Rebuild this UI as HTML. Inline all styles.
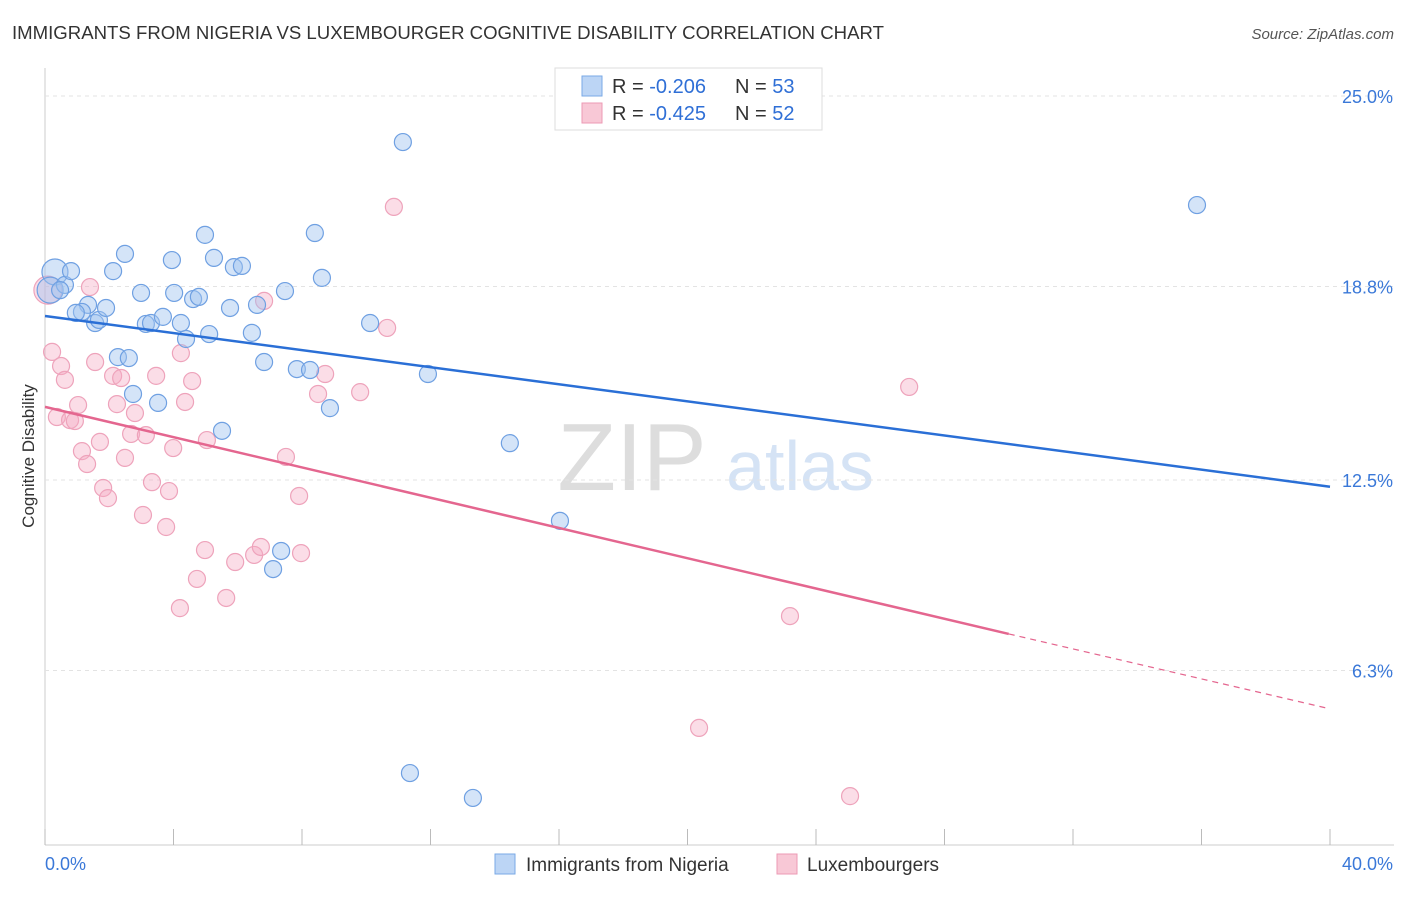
<!DOCTYPE html>
<html><head><meta charset="utf-8"><style>
body{margin:0;background:#fff;font-family:"Liberation Sans",sans-serif;}
svg text{font-family:"Liberation Sans",sans-serif;}
</style></head><body>
<svg id="c" width="1406" height="892">
<text x="12" y="39" font-size="18.6" fill="#333">IMMIGRANTS FROM NIGERIA VS LUXEMBOURGER COGNITIVE DISABILITY CORRELATION CHART</text>
<text x="1394" y="39" font-size="15" fill="#555" text-anchor="end" font-style="italic">Source: ZipAtlas.com</text>
<text x="34" y="456" font-size="17" fill="#333" text-anchor="middle" transform="rotate(-90 34 456)">Cognitive Disability</text>
<g><text x="632" y="490" font-size="96" fill="#ddd" text-anchor="middle" font-family="Liberation Serif">ZIP</text><text x="800" y="490" font-size="70" fill="#d5e3f5" text-anchor="middle">atlas</text></g>
<g id="grid"></g><g id="pts"></g><g id="lines"></g>
<g>
<rect x="555" y="68" width="267" height="62" fill="#fff" stroke="#ddd"/>
<rect x="582" y="76" width="20" height="20" fill="#bcd5f5" stroke="#7aa9e6"/>
<text x="612" y="93" font-size="20" fill="#333">R = <tspan fill="#2f6fd6">-0.206</tspan></text>
<text x="735" y="93" font-size="20" fill="#333">N = <tspan fill="#2f6fd6">53</tspan></text>
<rect x="582" y="103" width="20" height="20" fill="#f8c8d6" stroke="#ec9ab4"/>
<text x="612" y="120" font-size="20" fill="#333">R = <tspan fill="#2f6fd6">-0.425</tspan></text>
<text x="735" y="120" font-size="20" fill="#333">N = <tspan fill="#2f6fd6">52</tspan></text>
</g>
<g>
<rect x="495" y="854" width="20" height="20" fill="#bcd5f5" stroke="#7aa9e6"/>
<text x="526" y="871" font-size="19" fill="#333">Immigrants from Nigeria</text>
<rect x="777" y="854" width="20" height="20" fill="#f8c8d6" stroke="#ec9ab4"/>
<text x="807" y="871" font-size="19" fill="#333">Luxembourgers</text>
</g>
</svg>
<script>
const yTicks=[25.0,18.8,12.5,6.3];
const yTickLabels=["25.0%","18.8%","12.5%","6.3%"];
const xTicks=[0,4,8,12,16,20,24,28,32,36,40];
const blueX=[0.31,0.16,0.62,0.81,0.47,1.34,1.15,0.96,1.56,1.68,1.90,2.12,2.49,2.27,2.61,2.74,2.99,3.14,3.30,3.52,3.67,3.95,4.02,4.23,4.39,4.61,4.79,4.98,5.11,5.26,5.51,5.76,5.88,6.13,6.44,6.60,6.82,7.10,7.35,7.47,7.84,8.25,8.40,8.62,8.87,10.12,11.14,11.36,11.92,13.32,14.47,16.03,35.86];
const blueY=[19.27,18.68,18.85,19.30,18.68,18.20,17.97,17.94,17.61,17.71,18.10,19.30,19.86,16.50,16.47,15.30,18.59,17.58,17.61,15.01,17.81,19.66,18.59,17.61,17.09,18.39,18.46,20.48,17.25,19.73,14.10,18.10,19.43,19.47,17.29,18.20,16.34,9.60,10.19,18.65,16.11,16.08,20.54,19.08,14.84,17.61,23.50,2.96,15.95,2.15,13.70,11.17,21.45];
const pinkX=[0.09,0.22,0.37,0.50,0.62,0.78,0.93,1.03,1.15,1.31,1.40,1.56,1.71,1.81,1.96,2.12,2.24,2.37,2.49,2.68,2.80,3.05,3.14,3.33,3.46,3.77,3.86,3.99,4.20,4.23,4.36,4.58,4.73,4.98,5.04,5.64,5.92,6.51,6.72,6.82,7.50,7.91,7.97,8.50,8.72,9.81,10.65,10.86,20.36,23.19,25.06,26.90];
const pinkY=[18.68,16.67,14.55,16.21,15.76,14.45,14.42,14.94,13.44,13.02,18.78,16.34,13.74,12.24,11.91,15.89,14.97,15.82,13.22,14.00,14.68,11.36,13.96,12.43,15.89,10.97,12.14,13.54,8.33,16.63,15.04,15.72,9.28,10.22,13.80,8.66,9.83,10.06,10.32,18.33,13.25,11.98,10.12,15.30,15.95,15.36,17.45,21.39,4.43,8.07,2.21,15.53];
const blueFit=[[0,17.84],[40,12.28]];
const pinkFit=[[0,14.88],[30,7.49],[40,5.05]];
const NS="http://www.w3.org/2000/svg";
const X0=45,X1=1330,YT=96;
const xs=v=>X0+(X1-X0)*v/40;
const ys=v=>YT+(25-v)*30.72;
function mk(t,a,p){const e=document.createElementNS(NS,t);for(const k in a)e.setAttribute(k,a[k]);p.appendChild(e);return e;}
const g=document.getElementById('grid');
const ax=mk('line',{x1:45,y1:68,x2:45,y2:845,stroke:'#ccc'},g);


const bx=mk('line',{x1:45,y1:845,x2:1394,y2:845,stroke:'#ccc'},g);


yTicks.forEach((t,i)=>{
 const l=mk('line',{x1:45,y1:ys(t),x2:1394,y2:ys(t),stroke:'#e3e3e3','stroke-dasharray':'4,4'},g);
 
 
 const tx=mk('text',{x:1393,y:ys(t)+7,'font-size':18,fill:'#3a78d8','text-anchor':'end'},g);
 tx.textContent=yTickLabels[i];
 
 
});
xTicks.forEach(t=>{
 const l=mk('line',{x1:xs(t),y1:829,x2:xs(t),y2:845,stroke:'#bbb'},g);
 
 
});
const x0=mk('text',{x:45,y:870,'font-size':18,fill:'#3a78d8'},g);x0.textContent='0.0%';


const x4=mk('text',{x:1393,y:870,'font-size':18,fill:'#3a78d8','text-anchor':'end'},g);x4.textContent='40.0%';


const P=document.getElementById('pts');
pinkX.forEach((v,i)=>{
 const c=mk('circle',{cx:xs(v),cy:ys(pinkY[i]),r:i==0?14:8.5,fill:'rgba(245,170,195,0.4)',stroke:'#eea3bb','stroke-width':1.2},P);
 
 
});
blueX.forEach((v,i)=>{
 const c=mk('circle',{cx:xs(v),cy:ys(blueY[i]),r:i<2?13:8.5,fill:'rgba(160,195,240,0.45)',stroke:'#6fa0e2','stroke-width':1.2},P);
 
 
});
const L=document.getElementById('lines');
const bl=mk('line',{x1:xs(blueFit[0][0]),y1:ys(blueFit[0][1]),x2:xs(blueFit[1][0]),y2:ys(blueFit[1][1]),stroke:'#2a6fd6','stroke-width':2.5},L);


const pl=mk('line',{x1:xs(pinkFit[0][0]),y1:ys(pinkFit[0][1]),x2:xs(pinkFit[1][0]),y2:ys(pinkFit[1][1]),stroke:'#e4668f','stroke-width':2.5},L);


const pd=mk('line',{x1:xs(pinkFit[1][0]),y1:ys(pinkFit[1][1]),x2:xs(pinkFit[2][0]),y2:ys(pinkFit[2][1]),stroke:'#e4668f','stroke-width':1.2,'stroke-dasharray':'6,5'},L);


</script>
</body></html>
